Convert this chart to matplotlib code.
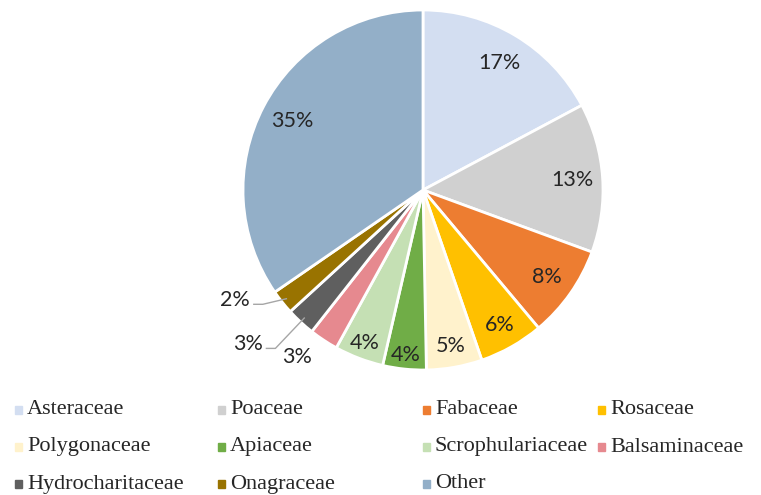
import numpy as np
import matplotlib.pyplot as plt
from matplotlib.patches import Rectangle

families = ['Asteraceae', 'Poaceae', 'Fabaceae', 'Rosaceae', 'Polygonaceae', 'Apiaceae',
            'Scrophulariaceae', 'Balsaminaceae', 'Hydrocharitaceae', 'Onagraceae', 'Other']
shares = [17.2, 13.4, 8.3, 5.8, 5.0, 3.9, 4.4, 2.6, 2.6, 2.2, 34.6]
colors = ['#D3DEF1', '#D0D0D0', '#ED7D31', '#FFC000', '#FFF2CC', '#70AD47',
          '#C5E0B4', '#E6898F', '#5F5F5F', '#997300', '#93AFC8']

W, H = 761, 495
fig = plt.figure(figsize=(W / 100, H / 100), dpi=100)

# pie centre (423, 190) px, radius 180 px
cx, cy, R = 423, 190, 180
ax = fig.add_axes([(cx - R) / W, (H - cy - R) / H, 2 * R / W, 2 * R / H])

wedges, _ = ax.pie(shares, colors=colors, startangle=90, counterclock=False,
                   wedgeprops=dict(edgecolor='white', linewidth=2))
ax.set_xlim(-1, 1)
ax.set_ylim(-1, 1)
ax.set_aspect('equal')
ax.axis('off')

labels = ['%d%%' % round(s) for s in shares]
lab_font = dict(family='Lato', fontsize=15.5, color='#262626')

# label radius per slice (inside ones), outside ones handled separately
inner_r = [0.82, 0.83, 0.84, 0.86, 0.88, 0.92, 0.91]
for i, w in enumerate(wedges):
    mid = np.deg2rad((w.theta1 + w.theta2) / 2)
    if i < len(inner_r):
        r = inner_r[i]
        ax.text(r * np.cos(mid), r * np.sin(mid), labels[i], ha='center', va='center', **lab_font)
    elif i == len(wedges) - 1:
        ax.text(0.82 * np.cos(mid), 0.82 * np.sin(mid), labels[i], ha='center', va='center', **lab_font)

# small slices outside
ax.text(-0.70, -0.93, labels[7], ha='center', va='center', clip_on=False, **lab_font)
outside = {8: (-0.89, -0.855, -0.88), 9: (-0.96, -0.61, -0.635)}
for i, (tx, ty, ly) in outside.items():
    w = wedges[i]
    mid = np.deg2rad((w.theta1 + w.theta2) / 2)
    ex, ey = 0.97 * np.cos(mid), 0.97 * np.sin(mid)
    ax.text(tx, ty, labels[i], ha='right', va='center', clip_on=False, **lab_font)
    ax.plot([tx + 0.02, tx + 0.07, ex], [ly, ly, ey], color='#A6A6A6', lw=1, clip_on=False)

# legend laid out like the original
col_x = [15, 218, 423, 598]
row_y = [410, 447, 484]
for k, name in enumerate(families):
    r, c = divmod(k, 4)
    x, y = col_x[c], row_y[r]
    fig.patches.append(Rectangle((x / W, (H - y - 4) / H), 7 / W, 8 / H,
                                 transform=fig.transFigure, color=colors[k]))
    fig.text((x + 12) / W, (H - y) / H, name, ha='left', va='center',
             family='Liberation Serif', fontsize=16, color='#262626')

fig.savefig('out.png', dpi=100)
